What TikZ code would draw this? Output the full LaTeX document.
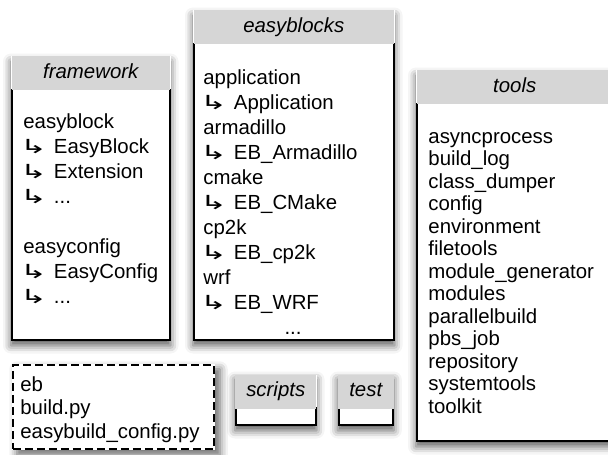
\documentclass[tikz,border=0pt]{standalone}
\usepackage{fontspec}
\setmainfont{Liberation Sans}
\newfontfamily\arrowfont{DejaVu Sans}
\usetikzlibrary{positioning, fit, backgrounds, shadows.blur}
\definecolor{headgray}{RGB}{214,214,214}
\newcommand{\subarrow}{\hspace{-1.8pt}\scalebox{1.6}[0.95]{\arrowfont\char"21B3}\hspace{3.4pt}}

\begin{document}
\begin{tikzpicture}[
  x=0.5pt, y=-0.5pt,
  every node/.style={font=\fontsize{10.2}{12.5}\selectfont},
  head/.style={fill=headgray, inner sep=0pt, outer sep=0pt, minimum height=17pt,
               text height=7.4pt, text depth=2.2pt,
               font=\fontsize{10.2}{12.5}\selectfont\itshape},
  body/.style={draw, fill=white, line width=0.75pt, inner sep=0pt, anchor=north west},
  list/.style={anchor=north west, align=left, inner sep=0pt},
  shade/.style={fill=white, inner sep=0pt,
                blur shadow={shadow xshift=0pt, shadow yshift=-2.5pt,
                             shadow blur radius=4pt, shadow opacity=65}},
]
\useasboundingbox (0,0) rectangle (608,454);

% framework
\node[body, minimum width=79pt, minimum height=125pt] (fwbody) at (11,89) {};
\node[head, minimum width=79pt, above=-0.75pt of fwbody] (fwhead) {framework};
\node[list] (fwlist) at (23,110.5)
  {\strut easyblock\\ \subarrow EasyBlock\\ \subarrow Extension\\ \subarrow ...\\[12.5pt]
   easyconfig\\ \subarrow EasyConfig\\ \subarrow ...};

% easyblocks
\node[body, minimum width=100pt, minimum height=148pt] (ebbody) at (193,43) {};
\node[head, minimum width=100pt, above=-0.75pt of ebbody] (ebhead) {easyblocks};
\node[list] (eblist) at (203,66.5)
  {\strut application\\ \subarrow Application\\ armadillo\\ \subarrow EB\_Armadillo\\
   cmake\\ \subarrow EB\_CMake\\ cp2k\\ \subarrow EB\_cp2k\\ wrf\\ \subarrow EB\_WRF};
\node[anchor=base, inner sep=0pt] (ebdots) at (293,334) {...};

% tools
\node[body, minimum width=98pt, minimum height=168.5pt] (tlbody) at (416,103) {};
\node[head, minimum width=98pt, above=-0.75pt of tlbody] (tlhead) {tools};
\node[list, font=\fontsize{10.2}{11.25}\selectfont] (tllist) at (428,127)
  {\strut asyncprocess\\ build\_log\\ class\_dumper\\ config\\ environment\\ filetools\\
   module\_generator\\ modules\\ parallelbuild\\ pbs\_job\\ repository\\ systemtools\\ toolkit};

% scripts, test
\node[body, minimum width=40pt, minimum height=8.5pt] (scbody) at (235,407) {};
\node[head, minimum width=40.5pt, above=-0.75pt of scbody] (schead) {scripts};
\node[body, minimum width=27pt, minimum height=8.5pt] (tsbody) at (338,407) {};
\node[head, minimum width=28pt, above=-0.75pt of tsbody] (tshead) {test};

% top level files
\node[body, dashed, dash pattern=on 4pt off 2pt, minimum width=100.5pt, minimum height=42pt]
  (topbox) at (12,364) {};
\node[list, font=\fontsize{10.2}{11.75}\selectfont] (toplist) at (20,374.5)
  {\strut eb\\ build.py\\ easybuild\_config.py};

% shadows
\begin{scope}[on background layer]
  \node[shade, fit=(fwhead)(fwbody)] {};
  \node[shade, fit=(ebhead)(ebbody)] {};
  \node[shade, fit=(tlhead)(tlbody)] {};
  \node[shade, fit=(schead)(scbody)] {};
  \node[shade, fit=(tshead)(tsbody)] {};
  \node[shade, fit=(topbox), blur shadow={shadow opacity=35}] {};
\end{scope}
\end{tikzpicture}
\end{document}
